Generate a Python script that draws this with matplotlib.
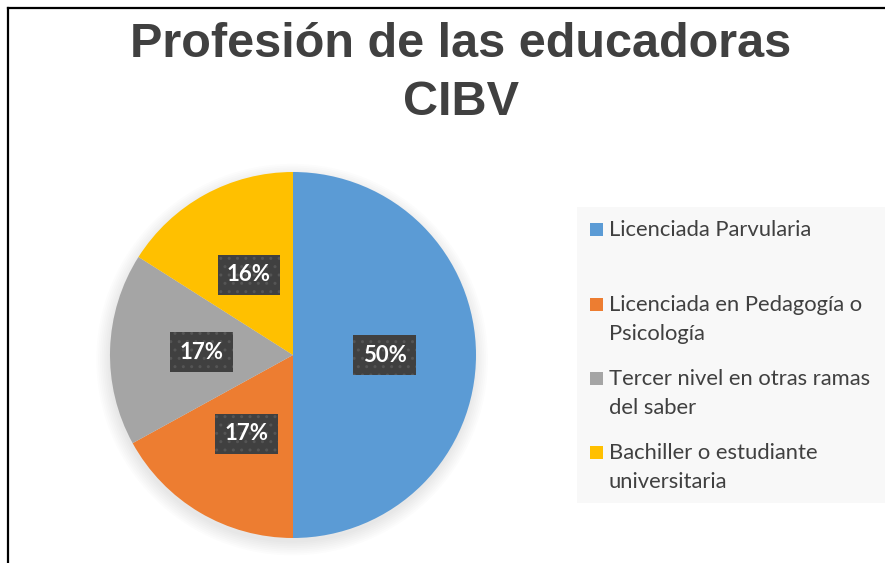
import numpy as np
import matplotlib.pyplot as plt
from matplotlib.patches import Circle, Rectangle
from matplotlib.lines import Line2D

# datos del gráfico
categorias = ['Licenciada Parvularia',
              'Licenciada en Pedagogía o\nPsicología',
              'Tercer nivel en otras ramas\ndel saber',
              'Bachiller o estudiante\nuniversitaria']
porcentajes = [50, 17, 17, 16]
colores = ['#5b9bd5', '#ed7d31', '#a5a5a5', '#ffc000']
titulo = ['Profesión de las educadoras', 'CIBV']

W, H = 885, 563
fig = plt.figure(figsize=(W / 100, H / 100), dpi=100)
fig.patch.set_facecolor('white')

# marco (solo se ven borde izquierdo y superior)
fig.add_artist(Line2D([8 / W, 8 / W], [0, 1 - 8 / H], color='black', lw=1.6))
fig.add_artist(Line2D([8 / W, 1], [1 - 8 / H, 1 - 8 / H], color='black', lw=1.6))

for linea, base in zip(titulo, [57, 115]):
    fig.text(461 / W, 1 - base / H, linea, ha='center', va='baseline', fontsize=35,
             fontweight='bold', family='Liberation Sans', color='#404040')

cx, cy, r = 293, 355, 183
ax = fig.add_axes([(cx - r * 1.1) / W, (H - cy - r * 1.1) / H, 2.2 * r / W, 2.2 * r / H])

# sombra suave
for k in range(8):
    ax.add_patch(Circle((-0.005, -0.025), 1.0 + 0.01 * k, color='black', alpha=0.01,
                        lw=0, zorder=0, clip_on=False))

wedges, texts, autotexts = ax.pie(porcentajes, colors=colores, startangle=90, counterclock=False,
                                  autopct='%.0f%%', pctdistance=0.5, radius=1.0,
                                  wedgeprops=dict(linewidth=0, zorder=1))
ax.set_xlim(-1.1, 1.1)
ax.set_ylim(-1.1, 1.1)
ax.axis('off')
for t in autotexts:
    t.set_color('white')
    t.set_fontsize(16)
    t.set_fontweight('bold')
    t.set_family('Lato')
    t.set_bbox(dict(boxstyle='square,pad=0.42', facecolor='#404040', edgecolor='#555555',
                    hatch='..', linewidth=0))

# leyenda
fig.add_artist(Rectangle((577 / W, 1 - 503 / H), (W - 577) / W, (503 - 207) / H,
                         facecolor='#f8f8f8', edgecolor='none'))
y_items = [229, 304, 378, 452]
for cat, col, yy in zip(categorias, colores, y_items):
    fig.add_artist(Rectangle((590 / W, 1 - (yy + 7) / H), 13 / W, 13 / H,
                             facecolor=col, edgecolor='none'))
    fig.text(609 / W, 1 - (yy - 9) / H, cat, ha='left', va='top', fontsize=15.8,
             family='Lato', color='#404040', linespacing=1.55)

fig.savefig('out.png', dpi=100)
